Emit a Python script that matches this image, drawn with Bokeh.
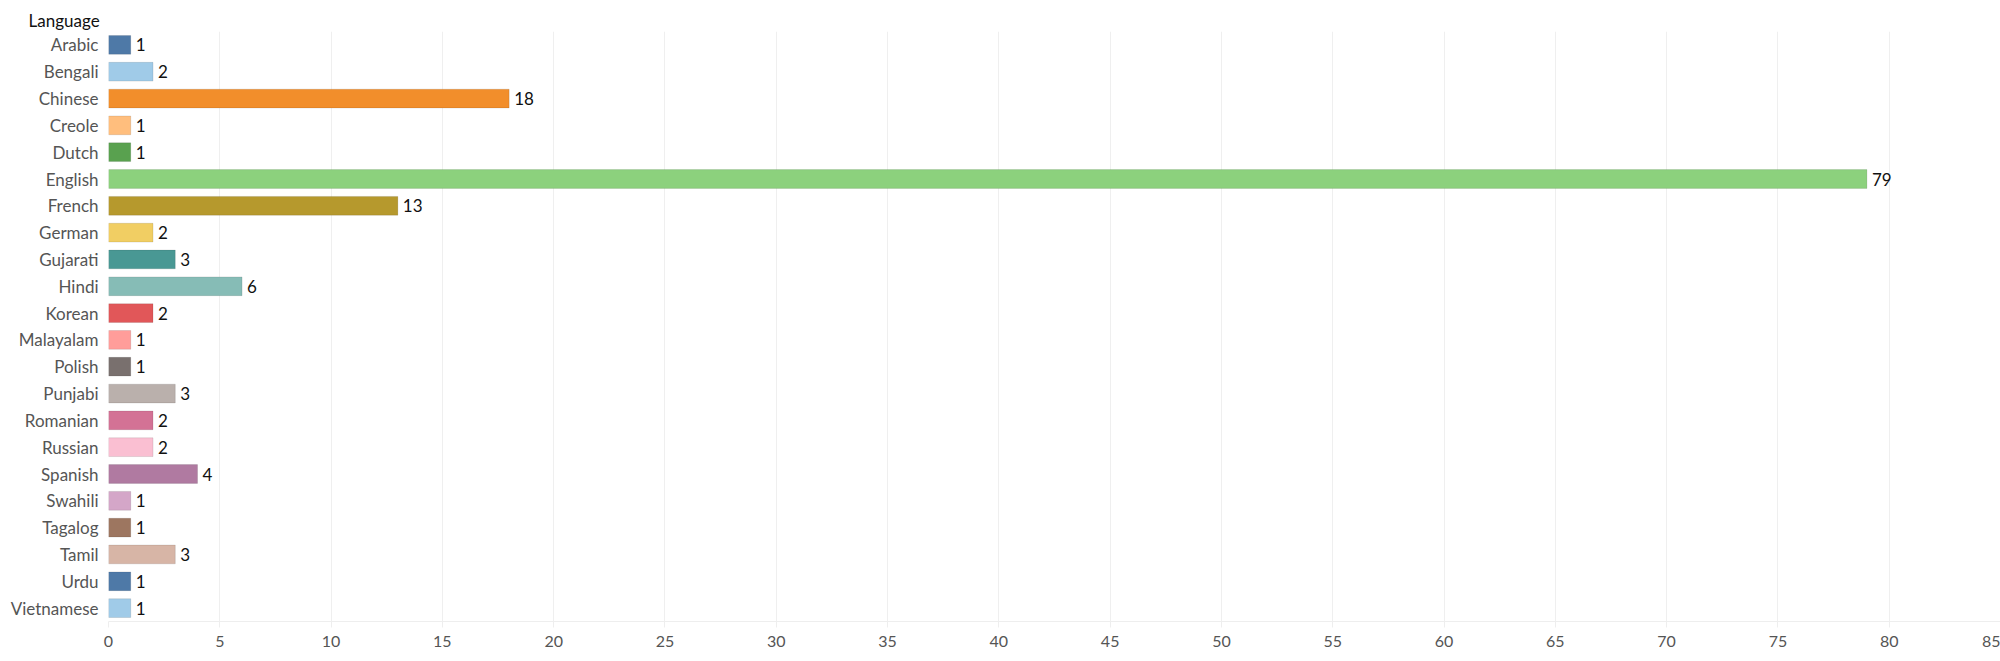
from bokeh.plotting import figure
from bokeh.models import ColumnDataSource, FactorRange, Range1d, FixedTicker
from bokeh.core.properties import value
from bokeh.embed import file_html
from bokeh.resources import INLINE

languages = ["Arabic", "Bengali", "Chinese", "Creole", "Dutch", "English", "French", "German",
             "Gujarati", "Hindi", "Korean", "Malayalam", "Polish", "Punjabi", "Romanian",
             "Russian", "Spanish", "Swahili", "Tagalog", "Tamil", "Urdu", "Vietnamese"]
counts = [1, 2, 18, 1, 1, 79, 13, 2, 3, 6, 2, 1, 1, 3, 2, 2, 4, 1, 1, 3, 1, 1]
colors = ["#4E79A7", "#A0CBE8", "#F28E2B", "#FFBE7D", "#59A14F", "#8CD17D", "#B6992D", "#F1CE63",
          "#499894", "#86BCB6", "#E15759", "#FF9D9A", "#79706E", "#BAB0AC", "#D37295",
          "#FABFD2", "#B07AA1", "#D4A6C8", "#9D7660", "#D7B5A6", "#4E79A7", "#A0CBE8"]
x_ticks = list(range(0, 90, 5))

FONT = "Lato"

src = ColumnDataSource(dict(lang=languages, n=counts, color=colors,
                            label=[str(c) for c in counts]))

p = figure(width=2000, height=661, output_backend="svg", toolbar_location=None,
           y_range=FactorRange(factors=list(reversed(languages)), range_padding=0),
           x_range=Range1d(0, 85),
           min_border_left=108, min_border_right=0, min_border_top=31, min_border_bottom=40)
p.outline_line_color = None
p.background_fill_color = "white"
p.border_fill_color = "white"

p.title.text = "Language"
p.title.align = "left"
p.title.offset = -80
p.title.text_font = FONT
p.title.text_font_size = "17px"
p.title.text_font_style = "normal"
p.title.text_color = "#111111"
p.title.standoff = 2

p.hbar(y="lang", right="n", left=0, height=0.7, fill_color="color", line_color="black",
       line_alpha=0.1, line_width=1, source=src)
p.text(x="n", y="lang", text="label", source=src, x_offset=5, text_baseline="middle",
       text_align="left", text_font=value(FONT), text_font_size="17px", text_color="#111111")

p.ygrid.grid_line_color = None
p.xgrid.grid_line_color = "#efefef"
p.xgrid.grid_line_width = 1

p.xaxis.ticker = FixedTicker(ticks=x_ticks)
p.xaxis.axis_line_color = "#eeeeee"
p.xaxis.major_tick_line_color = "#eeeeee"
p.xaxis.major_tick_out = 6
p.xaxis.major_tick_in = 0
p.xaxis.minor_tick_line_color = None
p.xaxis.major_label_text_font = FONT
p.xaxis.major_label_text_font_size = "16px"
p.xaxis.major_label_text_color = "#555555"
p.xaxis.major_label_standoff = 8

p.yaxis.axis_line_color = None
p.yaxis.major_tick_line_color = None
p.yaxis.minor_tick_line_color = None
p.yaxis.major_label_text_font = FONT
p.yaxis.major_label_text_font_size = "17px"
p.yaxis.major_label_text_color = "#555555"
p.yaxis.major_label_standoff = 4

open("out.html", "w").write(file_html(p, INLINE))
